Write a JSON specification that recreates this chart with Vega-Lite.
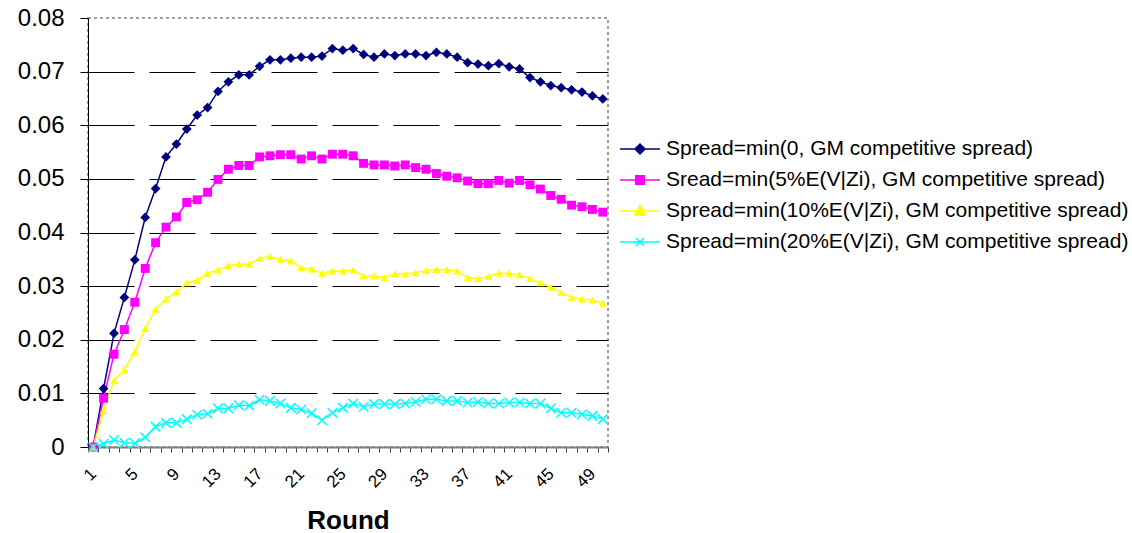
{
  "$schema": "https://vega.github.io/schema/vega-lite/v6.json",
  "width": 520,
  "height": 429,
  "autosize": {"type": "none"},
  "padding": {"left": 88, "top": 18, "right": 524, "bottom": 86},
  "background": "white",
  "config": {
    "font": "Liberation Sans",
    "view": {"stroke": "#808080", "strokeDash": [3, 3], "strokeWidth": 1.5},
    "legend": {
      "title": null,
      "orient": "none",
      "legendX": 531,
      "legendY": 110,
      "padding": 0,
      "symbolSize": 1600,
      "symbolStrokeWidth": 1.5,
      "symbolOpacity": 1,
      "symbolFillColor": "transparent",
      "labelOffset": 5,
      "labelFontSize": 21,
      "labelColor": "black",
      "labelLimit": 600,
      "rowPadding": -4
    }
  },
  "data": {
    "values": [
      {"round": 1, "a": 0, "b": 0, "c": 0, "d": 0},
      {"round": 2, "a": 0.0109, "b": 0.0091, "c": 0.0068, "d": 0.0006},
      {"round": 3, "a": 0.0212, "b": 0.0173, "c": 0.0124, "d": 0.0013},
      {"round": 4, "a": 0.0279, "b": 0.0219, "c": 0.0144, "d": 0.0008},
      {"round": 5, "a": 0.0349, "b": 0.0270, "c": 0.0178, "d": 0.0007},
      {"round": 6, "a": 0.0428, "b": 0.0333, "c": 0.0221, "d": 0.0018},
      {"round": 7, "a": 0.0482, "b": 0.0381, "c": 0.0257, "d": 0.0038},
      {"round": 8, "a": 0.0541, "b": 0.0410, "c": 0.0276, "d": 0.0045},
      {"round": 9, "a": 0.0565, "b": 0.0429, "c": 0.0289, "d": 0.0045},
      {"round": 10, "a": 0.0593, "b": 0.0456, "c": 0.0306, "d": 0.0052},
      {"round": 11, "a": 0.0619, "b": 0.0461, "c": 0.0311, "d": 0.0060},
      {"round": 12, "a": 0.0633, "b": 0.0475, "c": 0.0324, "d": 0.0062},
      {"round": 13, "a": 0.0663, "b": 0.0499, "c": 0.0330, "d": 0.0072},
      {"round": 14, "a": 0.0681, "b": 0.0518, "c": 0.0338, "d": 0.0072},
      {"round": 15, "a": 0.0694, "b": 0.0525, "c": 0.0341, "d": 0.0078},
      {"round": 16, "a": 0.0694, "b": 0.0525, "c": 0.0341, "d": 0.0077},
      {"round": 17, "a": 0.0710, "b": 0.0541, "c": 0.0352, "d": 0.0088},
      {"round": 18, "a": 0.0722, "b": 0.0543, "c": 0.0355, "d": 0.0086},
      {"round": 19, "a": 0.0722, "b": 0.0545, "c": 0.0350, "d": 0.0081},
      {"round": 20, "a": 0.0725, "b": 0.0545, "c": 0.0347, "d": 0.0073},
      {"round": 21, "a": 0.0727, "b": 0.0537, "c": 0.0334, "d": 0.0070},
      {"round": 22, "a": 0.0727, "b": 0.0543, "c": 0.0332, "d": 0.0063},
      {"round": 23, "a": 0.0729, "b": 0.0537, "c": 0.0324, "d": 0.0050},
      {"round": 24, "a": 0.0743, "b": 0.0546, "c": 0.0328, "d": 0.0064},
      {"round": 25, "a": 0.0740, "b": 0.0546, "c": 0.0328, "d": 0.0073},
      {"round": 26, "a": 0.0743, "b": 0.0543, "c": 0.0330, "d": 0.0081},
      {"round": 27, "a": 0.0732, "b": 0.0529, "c": 0.0319, "d": 0.0075},
      {"round": 28, "a": 0.0727, "b": 0.0526, "c": 0.0319, "d": 0.0080},
      {"round": 29, "a": 0.0733, "b": 0.0526, "c": 0.0316, "d": 0.0080},
      {"round": 30, "a": 0.0730, "b": 0.0524, "c": 0.0323, "d": 0.0080},
      {"round": 31, "a": 0.0733, "b": 0.0526, "c": 0.0323, "d": 0.0081},
      {"round": 32, "a": 0.0733, "b": 0.0521, "c": 0.0325, "d": 0.0084},
      {"round": 33, "a": 0.0730, "b": 0.0518, "c": 0.0329, "d": 0.0089},
      {"round": 34, "a": 0.0736, "b": 0.0510, "c": 0.0331, "d": 0.0089},
      {"round": 35, "a": 0.0733, "b": 0.0505, "c": 0.0331, "d": 0.0086},
      {"round": 36, "a": 0.0727, "b": 0.0502, "c": 0.0328, "d": 0.0086},
      {"round": 37, "a": 0.0717, "b": 0.0496, "c": 0.0316, "d": 0.0083},
      {"round": 38, "a": 0.0714, "b": 0.0491, "c": 0.0314, "d": 0.0084},
      {"round": 39, "a": 0.0711, "b": 0.0491, "c": 0.0318, "d": 0.0081},
      {"round": 40, "a": 0.0715, "b": 0.0497, "c": 0.0324, "d": 0.0081},
      {"round": 41, "a": 0.0709, "b": 0.0492, "c": 0.0324, "d": 0.0083},
      {"round": 42, "a": 0.0705, "b": 0.0497, "c": 0.0321, "d": 0.0083},
      {"round": 43, "a": 0.0689, "b": 0.0489, "c": 0.0314, "d": 0.0081},
      {"round": 44, "a": 0.0681, "b": 0.0481, "c": 0.0306, "d": 0.0081},
      {"round": 45, "a": 0.0674, "b": 0.0469, "c": 0.0298, "d": 0.0072},
      {"round": 46, "a": 0.0670, "b": 0.0462, "c": 0.0288, "d": 0.0064},
      {"round": 47, "a": 0.0666, "b": 0.0451, "c": 0.0279, "d": 0.0064},
      {"round": 48, "a": 0.0662, "b": 0.0448, "c": 0.0276, "d": 0.0061},
      {"round": 49, "a": 0.0655, "b": 0.0443, "c": 0.0274, "d": 0.0058},
      {"round": 50, "a": 0.0649, "b": 0.0438, "c": 0.0268, "d": 0.0052}
    ]
  },
  "transform": [{"fold": ["a", "b", "c", "d"], "as": ["series", "value"]}],
  "encoding": {
    "x": {
      "field": "round",
      "type": "ordinal",
      "scale": {"type": "band", "paddingInner": 0, "paddingOuter": 0},
      "axis": {
        "title": "Round",
        "titleFontSize": 26,
        "titleFontWeight": "bold",
        "titleColor": "black",
        "titleY": 81,
        "titleBaseline": "alphabetic",
        "labelAngle": -45,
        "labelAlign": "right",
        "labelBaseline": "middle",
        "labelFontSize": 17,
        "labelColor": "black",
        "labelPadding": 19,
        "labelOverlap": false,
        "labelExpr": "(datum.value - 1) % 4 == 0 ? datum.label : ''",
        "tickBand": "extent",
        "tickSize": 5,
        "tickColor": "#404040",
        "domainColor": "#808080",
        "domainWidth": 2,
        "grid": false
      }
    },
    "y": {
      "field": "value",
      "type": "quantitative",
      "scale": {"domain": [0, 0.08], "nice": false, "zero": true},
      "axis": {
        "title": null,
        "values": [0, 0.01, 0.02, 0.03, 0.04, 0.05, 0.06, 0.07, 0.08],
        "format": ".2~f",
        "labelFontSize": 24,
        "labelColor": "black",
        "labelPadding": 16,
        "tickSize": 8,
        "tickColor": "black",
        "domainColor": "black",
        "grid": true,
        "gridColor": "black",
        "gridDash": [46, 15],
        "gridWidth": 1,
        "gridOpacity": {"condition": {"test": "datum.value >= 0.08 || datum.value <= 0", "value": 0}, "value": 1}
      }
    }
  },
  "layer": [
    {
      "mark": {"type": "line", "strokeWidth": 1.5},
      "encoding": {
        "color": {
          "field": "series",
          "type": "nominal",
          "scale": {"domain": ["a", "b", "c", "d"], "range": ["#000080", "#FF00FF", "#FFFF00", "#00FFFF"]},
          "legend": null
        }
      }
    },
    {
      "transform": [{"filter": "datum.series != 'd'"}],
      "mark": {"type": "point", "filled": true, "opacity": 1},
      "encoding": {
        "color": {
          "field": "series",
          "type": "nominal",
          "scale": {"domain": ["a", "b", "c", "d"], "range": ["#000080", "#FF00FF", "#FFFF00", "#00FFFF"]},
          "legend": null
        },
        "shape": {
          "field": "series",
          "type": "nominal",
          "scale": {"domain": ["a", "b", "c"], "range": ["diamond", "square", "triangle-up"]},
          "legend": null
        },
        "size": {
          "field": "series",
          "type": "nominal",
          "scale": {"domain": ["a", "b", "c"], "range": [95, 64, 110]},
          "legend": null
        }
      }
    },
    {
      "transform": [{"filter": "datum.series == 'd'"}],
      "mark": {"type": "point", "filled": false, "opacity": 1, "strokeWidth": 1.5, "shape": "M-1,-1L1,1M-1,1L1,-1", "size": 90},
      "encoding": {
        "color": {
          "field": "series",
          "type": "nominal",
          "scale": {"domain": ["a", "b", "c", "d"], "range": ["#000080", "#FF00FF", "#FFFF00", "#00FFFF"]},
          "legend": null
        }
      }
    },
    {
      "mark": {"type": "point", "filled": true, "opacity": 0, "strokeWidth": 1.5},
      "encoding": {
        "fill": {
          "field": "series",
          "type": "nominal",
          "scale": {"domain": ["a", "b", "c", "d"], "range": ["#000080", "#FF00FF", "#FFFF00", "#00FFFF"]},
          "legend": {
            "labelExpr": "datum.label == 'a' ? 'Spread=min(0, GM competitive spread)' : datum.label == 'b' ? 'Sread=min(5%E(V|Zi), GM competitive spread)' : datum.label == 'c' ? 'Spread=min(10%E(V|Zi), GM competitive spread)' : 'Spread=min(20%E(V|Zi), GM competitive spread)'"
          }
        },
        "stroke": {
          "field": "series",
          "type": "nominal",
          "scale": {"domain": ["a", "b", "c", "d"], "range": ["#000080", "#FF00FF", "#FFFF00", "#00FFFF"]},
          "legend": {
            "labelExpr": "datum.label == 'a' ? 'Spread=min(0, GM competitive spread)' : datum.label == 'b' ? 'Sread=min(5%E(V|Zi), GM competitive spread)' : datum.label == 'c' ? 'Spread=min(10%E(V|Zi), GM competitive spread)' : 'Spread=min(20%E(V|Zi), GM competitive spread)'"
          }
        },
        "shape": {
          "field": "series",
          "type": "nominal",
          "scale": {
            "domain": ["a", "b", "c", "d"],
            "range": [
              "M-1,0H-0.25L0,-0.25L0.25,0L0,0.25L-0.25,0M0.25,0H1",
              "M-1,0H1M-0.21,-0.21H0.21V0.21H-0.21Z",
              "M-1,0H1M0,-0.28L0.27,0.2H-0.27Z",
              "M-1,0H1M-0.2,-0.2L0.2,0.2M-0.2,0.2L0.2,-0.2"
            ]
          },
          "legend": {
            "labelExpr": "datum.label == 'a' ? 'Spread=min(0, GM competitive spread)' : datum.label == 'b' ? 'Sread=min(5%E(V|Zi), GM competitive spread)' : datum.label == 'c' ? 'Spread=min(10%E(V|Zi), GM competitive spread)' : 'Spread=min(20%E(V|Zi), GM competitive spread)'"
          }
        }
      }
    }
  ],
  "resolve": {"scale": {"shape": "independent", "fill": "independent", "stroke": "independent"}}
}
